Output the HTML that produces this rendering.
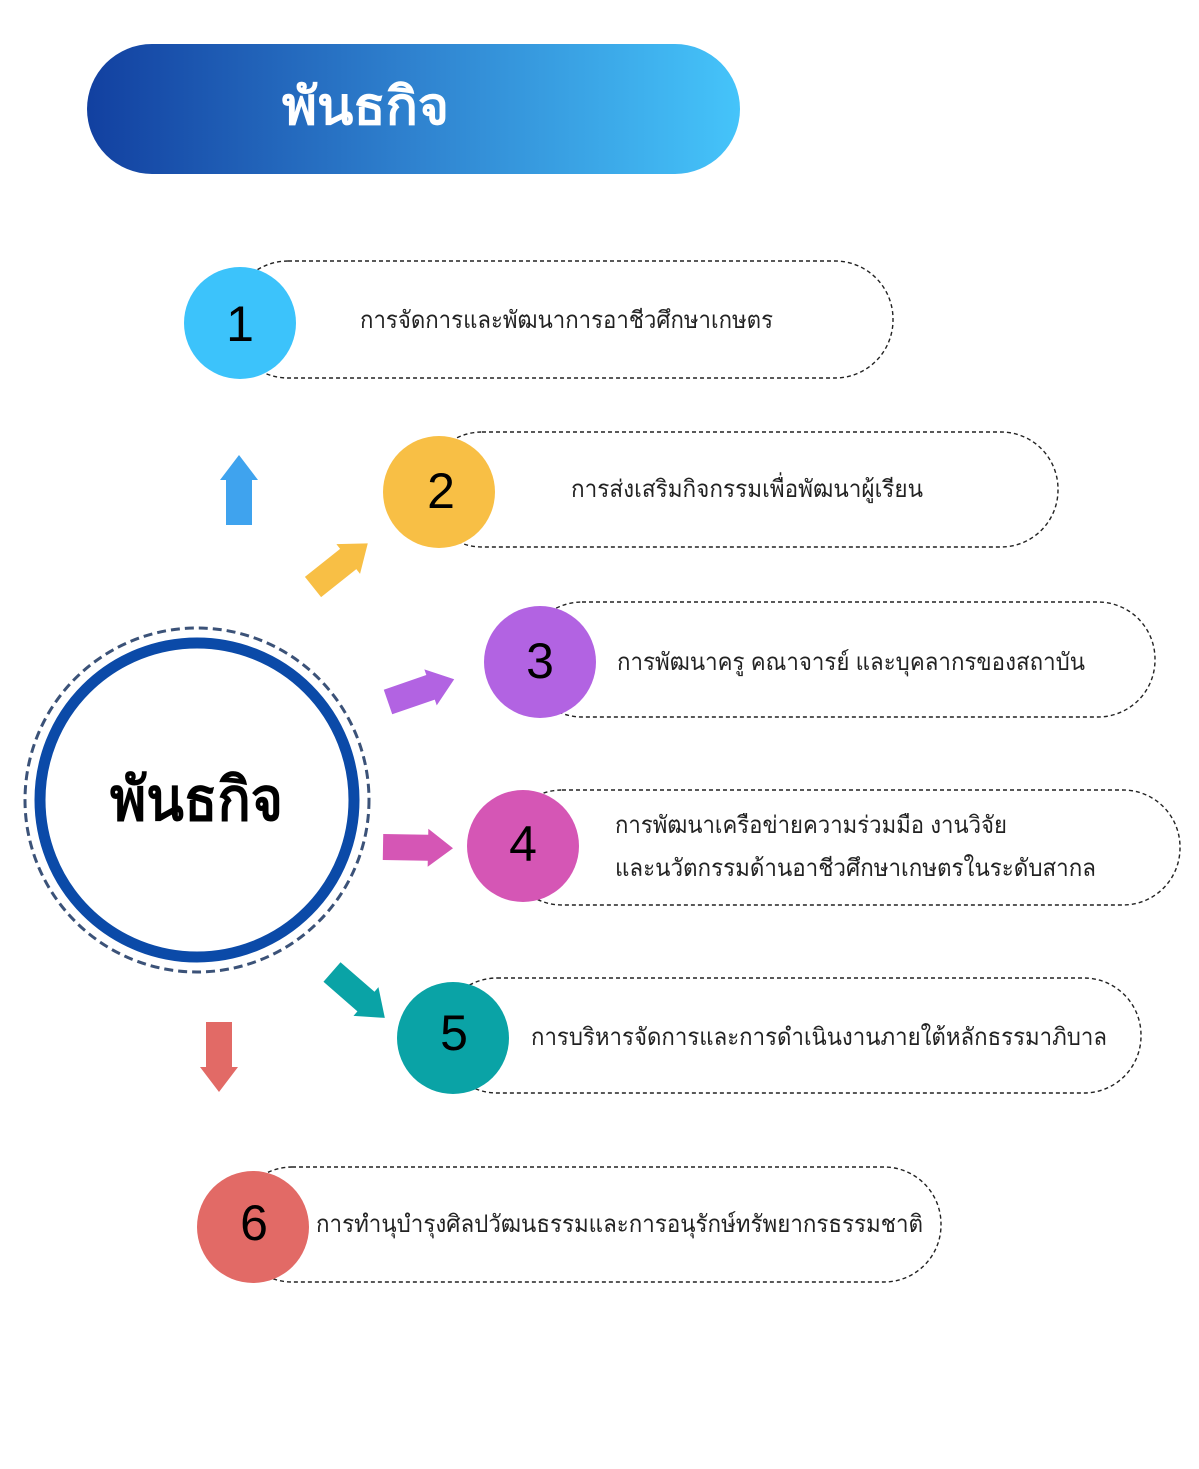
<!DOCTYPE html>
<html><head><meta charset="utf-8"><style>
html,body{margin:0;padding:0;background:#fff;}
svg{display:block;}
text{font-family:"Liberation Sans","DejaVu Sans",sans-serif;}
</style></head><body>
<svg width="1199" height="1469" viewBox="0 0 1199 1469" xmlns="http://www.w3.org/2000/svg">
<defs>
<linearGradient id="hg" x1="0" x2="1" y1="0" y2="0">
<stop offset="0" stop-color="#1240a0"/><stop offset="0.5" stop-color="#2f82cf"/><stop offset="1" stop-color="#45c4fa"/>
</linearGradient>
<path id="arr" d="M0,-13 L45,-13 L45,-19 L70,0 L45,19 L45,13 L0,13 Z" stroke-linejoin="round"/>
</defs>
<rect x="87" y="44" width="653" height="130" rx="65" fill="url(#hg)"/>
<text x="282" y="124" font-size="52" font-weight="bold" fill="#fff" textLength="167" lengthAdjust="spacingAndGlyphs">พันธกิจ</text>

<g fill="none" stroke="#222" stroke-width="1.4" stroke-dasharray="4,3">
<rect x="230" y="261" width="663" height="117" rx="58"/>
<rect x="425" y="432" width="633" height="115" rx="57"/>
<rect x="525" y="602" width="630" height="115" rx="57"/>
<rect x="505" y="790" width="675" height="115" rx="57"/>
<rect x="440" y="978" width="701" height="115" rx="57"/>
<rect x="235" y="1167" width="706" height="115" rx="57"/>
</g>

<circle cx="240" cy="323" r="56" fill="#3cc3fb"/>
<circle cx="439" cy="492" r="56" fill="#f8bf45"/>
<circle cx="540" cy="662" r="56" fill="#b263e2"/>
<circle cx="523" cy="846" r="56" fill="#d556b5"/>
<circle cx="453" cy="1038" r="56" fill="#0aa3a6"/>
<circle cx="253" cy="1227" r="56" fill="#e26a66"/>
<g font-size="50" fill="#000" text-anchor="middle">
<text x="240" y="341">1</text>
<text x="441" y="508">2</text>
<text x="540" y="678">3</text>
<text x="523" y="861">4</text>
<text x="454" y="1050">5</text>
<text x="254" y="1240">6</text>
</g>

<g font-size="24" fill="#222">
<text x="360" y="328" textLength="413" lengthAdjust="spacingAndGlyphs">การจัดการและพัฒนาการอาชีวศึกษาเกษตร</text>
<text x="571" y="497" textLength="352" lengthAdjust="spacingAndGlyphs">การส่งเสริมกิจกรรมเพื่อพัฒนาผู้เรียน</text>
<text x="617" y="670" textLength="468" lengthAdjust="spacingAndGlyphs">การพัฒนาครู คณาจารย์ และบุคลากรของสถาบัน</text>
<text x="615" y="833" textLength="392" lengthAdjust="spacingAndGlyphs">การพัฒนาเครือข่ายความร่วมมือ งานวิจัย</text>
<text x="615" y="876" textLength="481" lengthAdjust="spacingAndGlyphs">และนวัตกรรมด้านอาชีวศึกษาเกษตรในระดับสากล</text>
<text x="531" y="1045" textLength="576" lengthAdjust="spacingAndGlyphs">การบริหารจัดการและการดำเนินงานภายใต้หลักธรรมาภิบาล</text>
<text x="316" y="1232" textLength="607" lengthAdjust="spacingAndGlyphs">การทำนุบำรุงศิลปวัฒนธรรมและการอนุรักษ์ทรัพยากรธรรมชาติ</text>
</g>

<circle cx="197" cy="800" r="172" fill="none" stroke="#3b5278" stroke-width="3" stroke-dasharray="9,5"/>
<circle cx="197" cy="800" r="157" fill="#fff" stroke="#0b4aa8" stroke-width="11"/>
<text x="110" y="820" font-size="60" font-weight="bold" fill="#000" textLength="173" lengthAdjust="spacingAndGlyphs">พันธกิจ</text>

<use href="#arr" fill="#3fa3ee" transform="translate(239,525) rotate(-90)"/>
<use href="#arr" fill="#f8bf45" transform="translate(313,587) rotate(-38.5)"/>
<use href="#arr" fill="#b263e2" transform="translate(388,702) rotate(-19)"/>
<use href="#arr" fill="#d556b5" transform="translate(383,847) rotate(1)"/>
<use href="#arr" fill="#0aa3a6" transform="translate(332,972) rotate(41)"/>
<use href="#arr" fill="#e26a66" transform="translate(219,1022) rotate(90)"/>
</svg>
</body></html>
